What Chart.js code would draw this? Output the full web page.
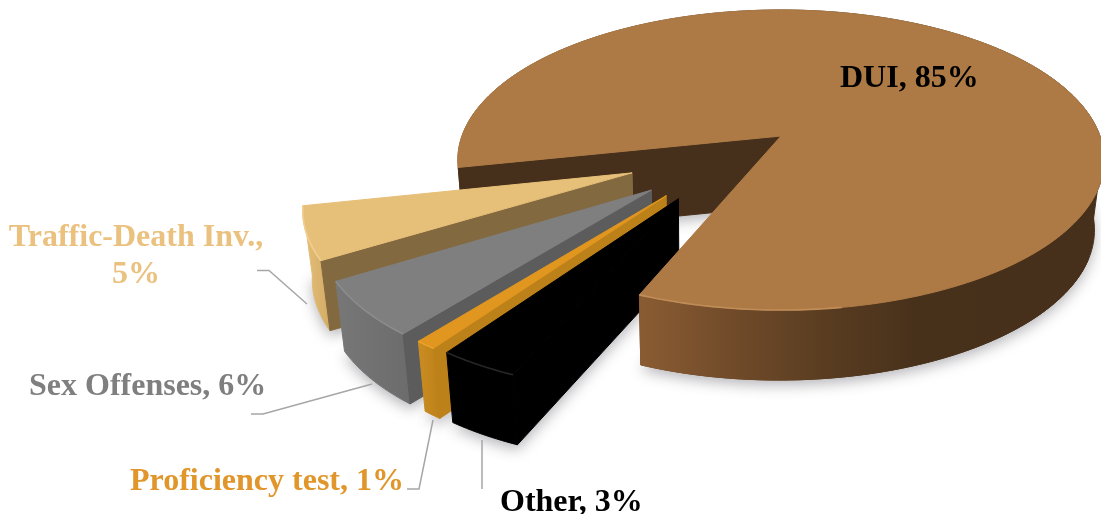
<!DOCTYPE html>
<html>
<head>
<meta charset="utf-8">
<style>
html,body{margin:0;padding:0;background:#fff;width:1101px;height:514px;overflow:hidden}
canvas{display:block;filter:blur(.35px)}
</style>
<script src="https://cdn.jsdelivr.net/npm/chart.js@4"></script>
</head>
<body>
<canvas id="c" width="1101" height="514"></canvas>
<script>
const categories = ['DUI', 'Other', 'Proficiency test', 'Sex Offenses', 'Traffic-Death Inv.'];
// printed as whole percents; the decimals are estimated from the size of each slice
const shares = [84.5, 3.4, 0.9, 5.7, 5.49];
const topColors = ['#ad7a45', '#000000', '#e0961f', '#7f7f7f', '#e6bf78'];

// how far each slice is pulled out of the pie, as a share of the radius, and its turn in degrees
const pullOut = [0, 0.502, 0.511, 0.519, 0.51];
const pullTurn = [0, 8.5, 5.3, -0.3, -6.5];
const looks = [
  {rim:'#c08c58', edge:'#46301b', band:[[0,'#8a5c33'],[.2,'#714b2a'],[.4,'#5a3d21'],[.6,'#48311b'],[1,'#46301b']]},
  {rim:'#262626', edge:'#000000', band:[[0,'#000000'],[1,'#000000']]},
  {rim:'#e8a22c', edge:'#bd8119', band:[[0,'#c98d22'],[1,'#bd8119']]},
  {rim:'#8c8c8c', edge:'#5c5c5c', band:[[0,'#777777'],[1,'#6c6c6c']]},
  {rim:'#f0cf90', edge:'#83693f', band:[[0,'#e6c079'],[1,'#d2ab66']]}
];
const textLooks = [
  {x:840, y:87, color:'#000000', align:'left'},
  {x:500, y:511, color:'#000000', align:'left'},
  {x:130, y:490, color:'#e0962a', align:'left'},
  {x:29, y:395, color:'#7f7f7f', align:'left'},
  {x:136, y:246, lead:37, color:'#ebc17f', align:'center', wrap:true}
];
const leaders = [
  [],
  [[482,489],[482,440]],
  [[407,489],[419,489],[433,420]],
  [[251,414],[263,414],[372,384]],
  [[257,270.5],[269,270.5],[307,304]]
];

// perspective of the pie plane
const view = {x:781, y:136, ax:319, ay:146.2, tilt:.16, depth:70, vanish:700, lean:.024, innerSlice:.965};

function project(u, v, low) {
  const w = 1 - view.tilt * v;
  let x = view.x + view.ax * u / w, y = view.y + view.ay * v / w;
  if (low) { x += (view.vanish - x) * view.lean; y += view.depth; }
  return [x, y];
}
function outline(arc, i) {
  const a0 = arc.startAngle, a1 = arc.endAngle, off = pullOut[i];
  const dir = (a0 + a1) / 2 + pullTurn[i] * Math.PI / 180;
  const tu = off * Math.cos(dir), tv = off * Math.sin(dir);
  const r = off > 0 ? view.innerSlice : 1;
  const n = Math.max(6, Math.ceil((a1 - a0) * 60));
  const rim = [];
  for (let k = 0; k <= n; k++) {
    const a = a0 + (a1 - a0) * k / n;
    rim.push([tu + r * Math.cos(a), tv + r * Math.sin(a), a]);
  }
  return {tip:[tu, tv], rim};
}
function poly(ctx, pts) {
  ctx.beginPath();
  pts.forEach((p, k) => k ? ctx.lineTo(p[0], p[1]) : ctx.moveTo(p[0], p[1]));
  ctx.closePath();
}
function bandPts(rim) {
  return rim.map(p => project(p[0], p[1], false)).concat(rim.slice().reverse().map(p => project(p[0], p[1], true)));
}
function bandFill(ctx, pts, stops) {
  const xs = pts.map(p => p[0]);
  const g = ctx.createLinearGradient(Math.min(...xs), 0, Math.max(...xs), 0);
  stops.forEach(s => g.addColorStop(s[0], s[1]));
  return g;
}
function paintShape(ctx, style) {
  ctx.fillStyle = style;
  ctx.strokeStyle = style;
  ctx.lineWidth = 1;
  ctx.fill();
  ctx.stroke();
}
function drawBand(ctx, rim, look) {
  const pts = bandPts(rim);
  poly(ctx, pts);
  paintShape(ctx, bandFill(ctx, pts, look.band));
}
function radial(ctx, s, p, look) {
  poly(ctx, [project(s.tip[0], s.tip[1]), project(p[0], p[1]), project(p[0], p[1], true), project(s.tip[0], s.tip[1], true)]);
  paintShape(ctx, look.edge);
}
function drawTop(ctx, s, color) {
  const pts = [project(s.tip[0], s.tip[1])].concat(s.rim.map(p => project(p[0], p[1])));
  poly(ctx, pts);
  paintShape(ctx, color);
}
function drawRim(ctx, rim, look, from, to) {
  const pts = rim.filter(p => p[2] >= from && p[2] <= to).map(p => project(p[0], p[1]));
  if (pts.length < 2) return;
  ctx.beginPath();
  pts.forEach((p, k) => k ? ctx.lineTo(p[0], p[1]) : ctx.moveTo(p[0], p[1]));
  ctx.strokeStyle = look.rim;
  ctx.lineWidth = 1.6;
  ctx.stroke();
}

const pie3d = {
  id: 'pie3d',
  beforeDatasetDraw(chart, args) {
    const ctx = chart.ctx;
    const arcs = chart.getDatasetMeta(args.index).data;
    const shapes = arcs.map((a, i) => outline(a, i));
    const paint = arcs.map(a => a.options.backgroundColor);
    ctx.save();
    // soft shadow on the page
    ctx.shadowColor = 'rgba(60,60,70,.38)';
    ctx.shadowBlur = 14;
    ctx.shadowOffsetY = 5;
    shapes.forEach((s, i) => {
      const pts = s.rim.map(p => project(p[0], p[1], true));
      if (i === 0) pts.push(project(s.tip[0], s.tip[1], true));
      else pts.unshift(project(s.tip[0], s.tip[1], true));
      poly(ctx, pts);
      ctx.fillStyle = '#fff';
      ctx.fill();
    });
    ctx.shadowColor = 'transparent';
    ctx.shadowBlur = 0;
    ctx.shadowOffsetY = 0;
    // back of the big slice
    drawBand(ctx, shapes[0].rim, looks[0]);
    radial(ctx, shapes[0], shapes[0].rim[0], looks[0]);
    // pulled-out slices, farthest first
    [4, 3, 2, 1].forEach(i => {
      const s = shapes[i];
      drawBand(ctx, s.rim, looks[i]);
      radial(ctx, s, s.rim[0], looks[i]);
      drawTop(ctx, s, paint[i]);
      drawRim(ctx, s.rim, looks[i], 0, 99);
    });
    // front of the big slice sits over the black one
    const front = shapes[0].rim.filter(p => p[2] > arcs[0].endAngle - 1.6);
    drawBand(ctx, front, looks[0]);
    drawTop(ctx, shapes[0], paint[0]);
    drawRim(ctx, shapes[0].rim, looks[0], arcs[0].endAngle - .55, 99);
    ctx.restore();
    return false;
  },
  afterDraw(chart) {
    const ctx = chart.ctx;
    ctx.save();
    ctx.strokeStyle = '#a6a6a6';
    ctx.lineWidth = 1.5;
    leaders.forEach(l => {
      if (!l.length) return;
      ctx.beginPath();
      l.forEach((p, k) => k ? ctx.lineTo(p[0], p[1]) : ctx.moveTo(p[0], p[1]));
      ctx.stroke();
    });
    ctx.font = 'bold 32px "Liberation Serif"';
    ctx.textBaseline = 'alphabetic';
    textLooks.forEach((t, i) => {
      const pct = Math.round(shares[i]) + '%';
      const lines = t.wrap ? [categories[i] + ',', pct] : [categories[i] + ', ' + pct];
      ctx.fillStyle = t.color;
      ctx.textAlign = t.align;
      lines.forEach((line, k) => ctx.fillText(line, t.x, t.y + k * (t.lead || 0)));
    });
    ctx.restore();
  }
};

new Chart(document.getElementById('c'), {
  type: 'pie',
  data: {
    labels: categories,
    datasets: [{data: shares, backgroundColor: topColors, borderWidth: 0}]
  },
  options: {
    responsive: false,
    devicePixelRatio: 1,
    animation: false,
    rotation: 258,
    layout: {padding: 0},
    plugins: {legend: {display: false}, tooltip: {enabled: false}, title: {display: false}}
  },
  plugins: [pie3d]
});
</script>
</body>
</html>
